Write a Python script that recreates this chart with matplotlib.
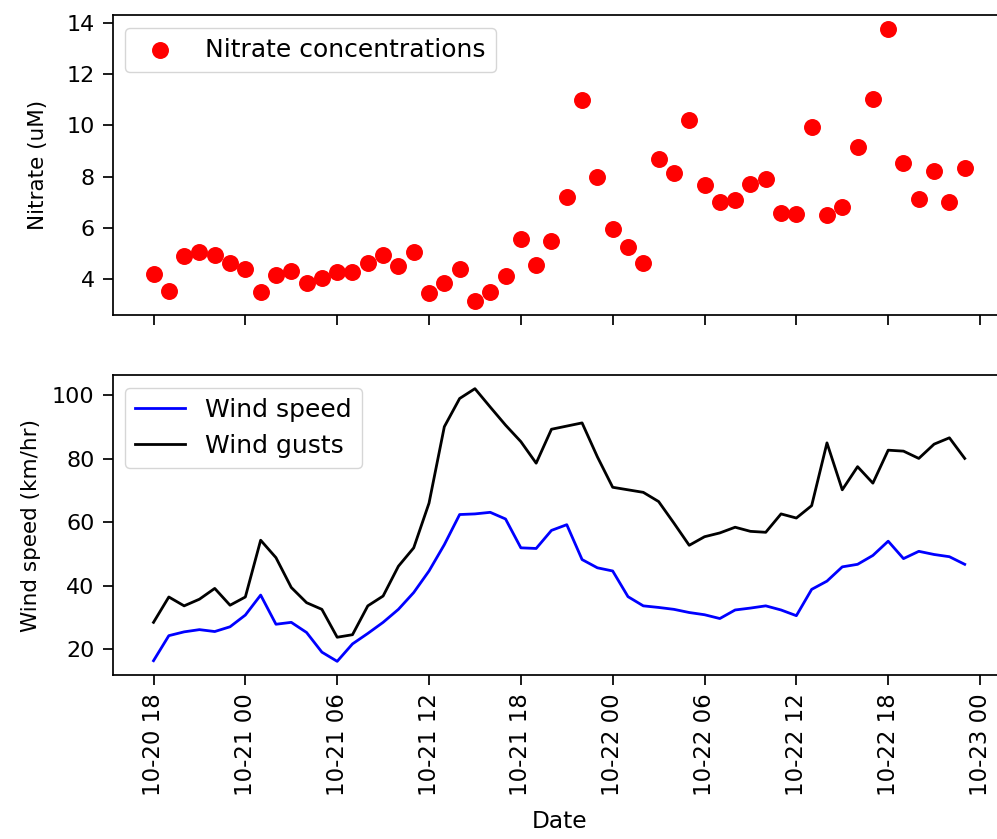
import matplotlib
matplotlib.use("Agg")
import matplotlib.pyplot as plt
import matplotlib.dates as mdates
import pandas as pd

# ── Data (hourly samples) ─────────────────────────────────────────────────────
times = pd.date_range("2021-10-20 18:00", periods=54, freq="h")

nitrate = [
    4.19, 3.55, 4.91, 5.07, 4.94, 4.64, 4.39, 3.48, 4.17, 4.33,
    3.85, 4.04, 4.26, 4.26, 4.64, 4.94, 4.51, 5.07, 3.46, 3.85,
    4.39, 3.13, 3.48, 4.13, 5.55, 4.53, 5.49, 7.22, 10.97, 8.00,
    5.97, 5.26, 4.64, 8.68, 8.12, 10.20, 7.65, 7.00, 7.07, 7.71,
    7.90, 6.59, 6.53, 9.93, 6.51, 6.80, 9.15, 11.03, 13.77, 8.52,
    7.13, 8.20, 7.00, 8.33,
]

wind_speed = [
    16.3, 24.2, 25.4, 26.1, 25.5, 27.0, 30.7, 37.0, 27.8, 28.4,
    25.2, 19.0, 16.1, 21.6, 24.9, 28.4, 32.5, 37.8, 44.6, 52.9,
    62.4, 62.6, 63.1, 61.0, 51.9, 51.7, 57.4, 59.2, 48.2, 45.6,
    44.6, 36.5, 33.6, 33.1, 32.5, 31.5, 30.8, 29.6, 32.3, 32.9,
    33.6, 32.3, 30.5, 38.8, 41.4, 45.9, 46.7, 49.5, 54.0, 48.5,
    50.8, 49.8, 49.1, 46.7,
]

wind_gusts = [
    28.4, 36.4, 33.6, 35.7, 39.1, 33.8, 36.4, 54.3, 48.8, 39.4,
    34.6, 32.5, 23.7, 24.5, 33.6, 36.7, 46.1, 51.9, 66.0, 90.1,
    99.0, 102.1, 96.3, 90.6, 85.4, 78.6, 89.3, 90.3, 91.3, 80.6,
    71.0, 70.2, 69.4, 66.5, 59.7, 52.7, 55.4, 56.6, 58.4, 57.1,
    56.8, 62.6, 61.3, 65.2, 85.0, 70.2, 77.5, 72.3, 82.7, 82.4,
    80.1, 84.6, 86.6, 80.1,
]

nitrate_ticks = [4, 6, 8, 10, 12, 14]
wind_ticks = [20, 40, 60, 80, 100]

# ── Style ─────────────────────────────────────────────────────────────────────
plt.rcParams.update({
    "font.size": 15.5,
    "xtick.labelsize": 16.5,
    "ytick.labelsize": 16,
    "legend.fontsize": 18,
    "axes.linewidth": 1.25,
    "xtick.major.size": 7.2,
    "ytick.major.size": 7.2,
    "xtick.major.width": 1.25,
    "ytick.major.width": 1.25,
    "xtick.major.pad": 6,
    "ytick.major.pad": 6,
})

fig = plt.figure(figsize=(9.97, 8.39), dpi=100)
ax1 = fig.add_axes([0.1133, 0.6246, 0.8950, 0.3575])
ax2 = fig.add_axes([0.1133, 0.1955, 0.8950, 0.3575], sharex=ax1)

# ── Nitrate ───────────────────────────────────────────────────────────────────
ax1.scatter(times, nitrate, color="red", s=125, label="Nitrate concentrations")
ax1.set_ylabel("Nitrate (uM)", labelpad=13.5)
ax1.set_yticks(nitrate_ticks)
ax1.legend(loc="upper left")
ax1.tick_params(labelbottom=False)

# ── Wind ──────────────────────────────────────────────────────────────────────
ax2.plot(times, wind_speed, color="blue", linewidth=2.0, label="Wind speed")
ax2.plot(times, wind_gusts, color="black", linewidth=2.0, label="Wind gusts")
ax2.set_ylabel("Wind speed (km/hr)", labelpad=8)
ax2.set_xlabel("Date", fontsize=16.8, labelpad=10)
ax2.set_yticks(wind_ticks)
ax2.legend(loc="upper left")

ax2.xaxis.set_major_locator(mdates.HourLocator(byhour=[0, 6, 12, 18]))
ax2.xaxis.set_major_formatter(mdates.DateFormatter("%m-%d %H"))
plt.setp(ax2.get_xticklabels(), rotation=90)

plt.savefig("out.png", dpi=100)
